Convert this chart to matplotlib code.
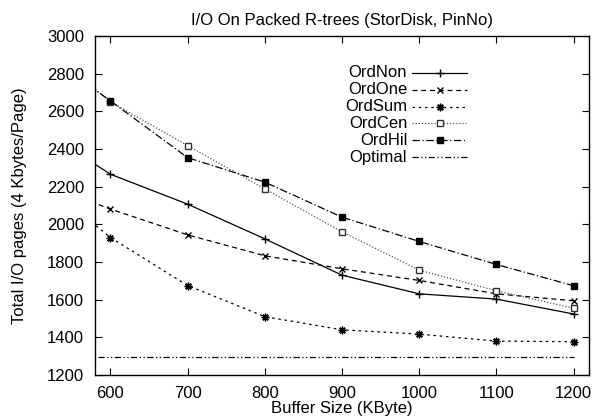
import matplotlib
matplotlib.use("Agg")
import matplotlib.pyplot as plt

plt.rcParams["font.family"] = ["Liberation Sans", "DejaVu Sans"]

# buffer sizes (KByte); 500 lies just left of the visible range
buffer_kb = [500, 600, 700, 800, 900, 1000, 1100, 1200]

ord_non = [2531, 2266, 2107, 1923, 1730, 1631, 1603, 1524]
ord_one = [2236, 2081, 1944, 1833, 1764, 1702, 1631, 1594]
ord_sum = [2265, 1930, 1675, 1510, 1440, 1417, 1380, 1377]
ord_cen = [2995, 2650, 2418, 2188, 1960, 1757, 1647, 1555]
ord_hil = [2950, 2655, 2354, 2224, 2038, 1909, 1787, 1674]
optimal = [1295] * len(buffer_kb)

labels = ["OrdNon", "OrdOne", "OrdSum", "OrdCen", "OrdHil", "Optimal"]
x_ticks = [600, 700, 800, 900, 1000, 1100, 1200]
y_ticks = [1200, 1400, 1600, 1800, 2000, 2200, 2400, 2600, 2800, 3000]

series = [ord_non, ord_one, ord_sum, ord_cen, ord_hil, optimal]
line_styles = [
    dict(color="black", ls="-"),
    dict(color="black", ls=(0, (4, 3))),
    dict(color="black", ls=(0, (2, 3))),
    dict(color="#555555", ls=(0, (1, 1.5))),
    dict(color="black", ls=(0, (6, 2, 1, 2))),
    dict(color="black", ls=(0, (5, 2, 1, 2, 1, 2))),
]
marker_styles = [
    dict(marker="+", ms=6, mew=1.0, color="black"),
    dict(marker="x", ms=4.5, mew=1.0, color="black"),
    dict(marker=(8, 2, 0), ms=5.5, mew=1.0, color="black"),
    dict(marker="s", ms=4.5, mfc="white", mec="#333333", mew=1.0),
    dict(marker="s", ms=5, mfc="black", mec="black"),
    None,
]

fs = 12

fig = plt.figure(figsize=(5.94, 4.17), dpi=100)
ax = fig.add_axes([0.160, 0.1007, 0.8316, 0.8130])

for vals, ls_st, mk_st in zip(series, line_styles, marker_styles):
    ax.plot(buffer_kb, vals, lw=0.9, **ls_st)
    if mk_st:
        ax.plot(buffer_kb, vals, ls="None", **mk_st)

ax.set_xlim(580, 1220)
ax.set_ylim(1200, 3000)
ax.set_xticks(x_ticks)
ax.set_yticks(y_ticks)
ax.tick_params(direction="in", top=True, right=True, length=5, width=0.8,
               labelsize=fs, pad=8)
for sp in ax.spines.values():
    sp.set_linewidth(1.0)

ax.set_title("I/O On Packed R-trees (StorDisk, PinNo)", fontsize=fs, pad=8)
ax.set_xlabel("Buffer Size (KByte)", fontsize=fs, labelpad=0)
ax.set_ylabel("Total I/O pages (4 Kbytes/Page)", fontsize=fs, labelpad=14)

# gnuplot-style key: right-aligned labels, samples to the right
for i, (lab, ls_st, mk_st) in enumerate(zip(labels, line_styles, marker_styles)):
    yk = 0.891 - i * 0.0496
    ax.text(0.632, yk, lab, transform=ax.transAxes, ha="right", va="center",
            fontsize=fs)
    ax.plot([0.642, 0.753], [yk, yk], transform=ax.transAxes, lw=0.9, **ls_st)
    if mk_st:
        ax.plot([0.698], [yk], transform=ax.transAxes, ls="None", **mk_st)

fig.savefig("out.png", dpi=100)
